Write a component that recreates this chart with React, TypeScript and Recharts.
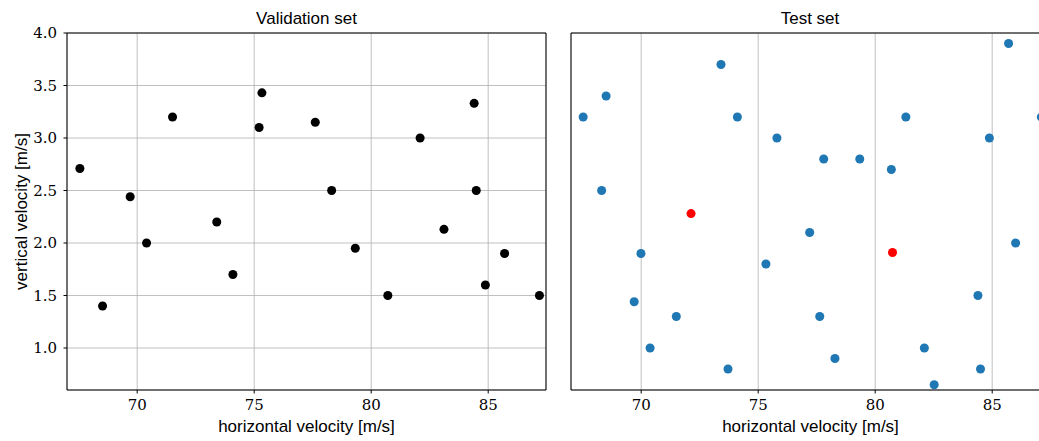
import {
  CartesianGrid,
  ReferenceArea,
  Scatter,
  ScatterChart,
  XAxis,
  YAxis,
} from "recharts"

// validation samples
const valX = [67.55, 68.52, 69.7, 70.4, 71.51, 73.4, 74.09, 75.21, 75.33, 77.61, 78.31, 79.32, 80.71, 82.09, 83.11, 84.4, 84.49, 84.88, 85.7, 87.19]
const valY = [2.71, 1.4, 2.44, 2.0, 3.2, 2.2, 1.7, 3.1, 3.43, 3.15, 2.5, 1.95, 1.5, 3.0, 2.13, 3.33, 2.5, 1.6, 1.9, 1.5]

// test samples
const testX = [67.52, 68.31, 68.5, 69.7, 69.99, 70.38, 71.5, 73.41, 73.71, 74.11, 75.33, 75.8, 77.2, 77.63, 77.8, 78.28, 79.34, 80.69, 81.31, 82.1, 82.52, 84.39, 84.5, 84.88, 85.7, 86.0, 87.1, 87.2]
const testY = [3.2, 2.5, 3.4, 1.44, 1.9, 1.0, 1.3, 3.7, 0.8, 3.2, 1.8, 3.0, 2.1, 1.3, 2.8, 0.9, 2.8, 2.7, 3.2, 1.0, 0.65, 1.5, 0.8, 3.0, 3.9, 2.0, 3.2, 2.9]

// highlighted test samples
const redX = [72.13, 80.74]
const redY = [2.28, 1.91]

const xTicks = [70, 75, 80, 85]
const yTicks = [1.0, 1.5, 2.0, 2.5, 3.0, 3.5, 4.0]
const X_MIN = 67.0
const X_MAX = 87.47
const Y_MIN = 0.6
const Y_MAX = 4.0

const toPoints = (xs: number[], ys: number[]) => xs.map((x, i) => ({ x, y: ys[i] }))

const validation = toPoints(valX, valY)
const test = toPoints(testX, testY)
const highlighted = toPoints(redX, redY)

const SERIF = "DejaVu Serif"
const SANS = "Liberation Sans"
const labelFont = { fill: "#000", fontSize: 17, fontFamily: SANS }

const titleStyle: React.CSSProperties = {
  position: "absolute",
  top: 9,
  width: 479,
  textAlign: "center",
  fontFamily: SANS,
  fontSize: 17,
  lineHeight: "20px",
  color: "#000",
}

// serif tick text
function XTick({ x, y, payload }: any) {
  return (
    <text x={x} y={y} dy="0.71em" textAnchor="middle" fill="#000" fontFamily={SERIF} fontSize={15}>
      {payload.value}
    </text>
  )
}

function YTick({ x, y, payload }: any) {
  return (
    <text x={x} y={y} dy="0.355em" textAnchor="end" fill="#000" fontFamily={SERIF} fontSize={15}>
      {Number(payload.value).toFixed(1)}
    </text>
  )
}

function Panel({ showYLabels, children }: { showYLabels: boolean; children: React.ReactNode }) {
  const yWidth = showYLabels ? 67 : 4
  return (
    <ScatterChart
      width={yWidth + 479 + 4}
      height={441}
      margin={{ top: 33, right: 4, bottom: 0, left: 0 }}
    >
      <CartesianGrid stroke="#b0b0b0" strokeWidth={0.8} />
      <XAxis
        type="number"
        dataKey="x"
        domain={[X_MIN, X_MAX]}
        ticks={xTicks}
        height={51}
        axisLine={false}
        tickLine={{ stroke: "#000" }}
        tickSize={3.5}
        tickMargin={6}
        tick={(p: any) => <XTick {...p} />}
        label={{ value: "horizontal velocity [m/s]", position: "insideBottom", offset: 9, style: labelFont }}
      />
      <YAxis
        type="number"
        dataKey="y"
        domain={[Y_MIN, Y_MAX]}
        ticks={yTicks}
        width={yWidth}
        axisLine={false}
        tickLine={{ stroke: "#000" }}
        tickSize={3.5}
        tickMargin={6.5}
        tick={showYLabels ? (p: any) => <YTick {...p} /> : false}
        label={
          showYLabels
            ? {
                value: "vertical velocity [m/s]",
                angle: -90,
                position: "insideLeft",
                offset: 20.5,
                style: { ...labelFont, textAnchor: "middle" },
              }
            : undefined
        }
      />
      <ReferenceArea
        x1={X_MIN}
        x2={X_MAX}
        y1={Y_MIN}
        y2={Y_MAX}
        fill="none"
        stroke="#000"
        strokeWidth={1}
        ifOverflow="visible"
      />
      {children}
    </ScatterChart>
  )
}

export default function App() {
  return (
    <div
      style={{
        position: "fixed",
        left: 0,
        top: 0,
        width: 1039,
        height: 441,
        overflow: "hidden",
        background: "#fff",
      }}
    >
      <div style={{ ...titleStyle, left: 67 }}>Validation set</div>
      <div style={{ ...titleStyle, left: 570.5 }}>Test set</div>

      <div style={{ position: "absolute", left: 0, top: 0 }}>
        <Panel showYLabels>
          <Scatter data={validation} fill="#000" isAnimationActive={false} />
        </Panel>
      </div>

      <div style={{ position: "absolute", left: 566.5, top: 0 }}>
        <Panel showYLabels={false}>
          <Scatter data={test} fill="#1f77b4" isAnimationActive={false} />
          <Scatter data={highlighted} fill="#ff0000" isAnimationActive={false} />
        </Panel>
      </div>
    </div>
  )
}
